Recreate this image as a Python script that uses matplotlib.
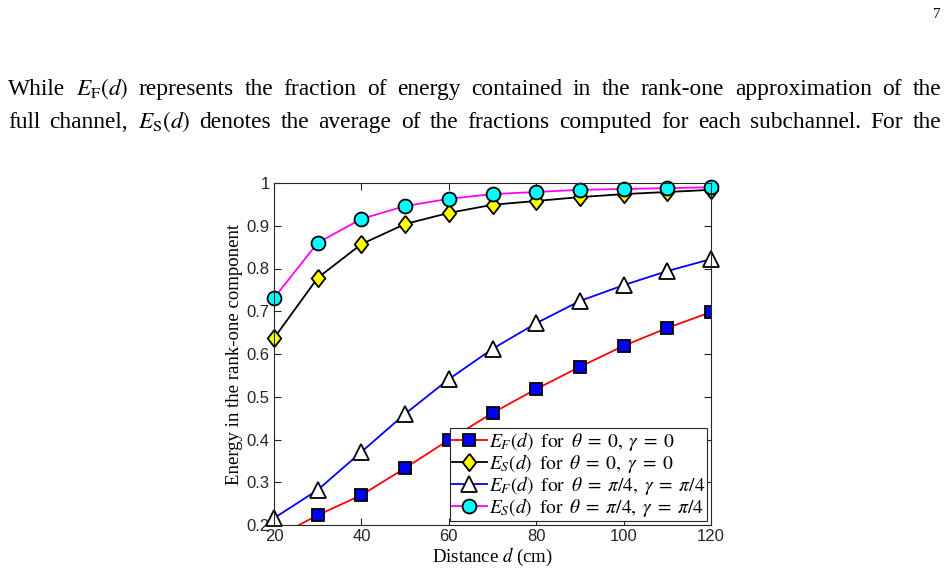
import matplotlib
matplotlib.use("Agg")
import matplotlib.pyplot as plt

# ── data ─────────────────────────────────────────────────────────────────
dist = [20, 30, 40, 50, 60, 70, 80, 90, 100, 110, 120]
ef_0 = [0.169, 0.223, 0.270, 0.333, 0.399, 0.462, 0.518, 0.570, 0.619, 0.661, 0.698]
es_0 = [0.637, 0.778, 0.857, 0.904, 0.930, 0.949, 0.958, 0.967, 0.974, 0.979, 0.984]
ef_pi4 = [0.216, 0.282, 0.371, 0.460, 0.541, 0.612, 0.672, 0.724, 0.761, 0.794, 0.822]
es_pi4 = [0.731, 0.860, 0.916, 0.946, 0.963, 0.974, 0.979, 0.984, 0.986, 0.988, 0.990]

labels = [r"$E_F(d)\;\;\mathrm{for}\;\;\theta\;=\;0,\;\gamma\;=\;0$",
          r"$E_S(d)\;\;\mathrm{for}\;\;\theta\;=\;0,\;\gamma\;=\;0$",
          r"$E_F(d)\;\;\mathrm{for}\;\;\theta\;=\;\pi/4,\;\gamma\;=\;\pi/4$",
          r"$E_S(d)\;\;\mathrm{for}\;\;\theta\;=\;\pi/4,\;\gamma\;=\;\pi/4$"]

xticks = [20, 40, 60, 80, 100, 120]
yticks = [0.2, 0.3, 0.4, 0.5, 0.6, 0.7, 0.8, 0.9, 1.0]
ytick_labels = ["0.2", "0.3", "0.4", "0.5", "0.6", "0.7", "0.8", "0.9", "1"]

page_lines = [
    r"While $E_\mathrm{F}(d)$ represents the fraction of energy contained in the rank-one approximation of the",
    r"full channel, $E_\mathrm{S}(d)$ denotes the average of the fractions computed for each subchannel. For the",
]

AX_GRAY = "#262626"
SERIF = "Liberation Serif"
SANS = "Liberation Sans"

plt.rcParams["mathtext.fontset"] = "stix"
plt.rcParams["font.family"] = SERIF

# slightly tall diamond, like MATLAB's
DIAMOND = [(0, 1), (0.78, 0), (0, -1), (-0.78, 0), (0, 1)]

fig = plt.figure(figsize=(9.49, 5.77), dpi=100)
fig.patch.set_facecolor("white")

# ── page text, justified word by word ───────────────────────────────────
renderer = fig.canvas.get_renderer()
x_left, x_right = 8 / 949, 941 / 949
for line, ybase in zip(page_lines, [95, 128]):
    words = line.split(" ")
    texts = [fig.text(0, 1 - ybase / 577, w, fontsize=16.8, family=SERIF,
                      va="baseline", ha="left") for w in words]
    widths = [t.get_window_extent(renderer).width / 949 for t in texts]
    gap = (x_right - x_left - sum(widths)) / (len(words) - 1)
    x = x_left
    for t, w in zip(texts, widths):
        t.set_x(x)
        x += w + gap

fig.text(941 / 949, 1 - 18 / 577, "7", fontsize=11, family=SERIF,
         ha="right", va="baseline")

# ── chart ────────────────────────────────────────────────────────────────
ax = fig.add_axes([274 / 949, 1 - 525 / 577, 437 / 949, 342 / 577])

mk = dict(markeredgecolor="black", markeredgewidth=1.3, linewidth=1.3)
ax.plot(dist, ef_0, color="red", marker="s", markersize=8.5,
        markerfacecolor="blue", label=labels[0], **mk)
ax.plot(dist, es_0, color="black", marker=DIAMOND, markersize=12.5,
        markerfacecolor="yellow", label=labels[1], clip_on=False, **mk)
ax.plot(dist, ef_pi4, color="blue", marker="^", markersize=11.5,
        markerfacecolor="white", label=labels[2], clip_on=False, **mk)
ax.plot(dist, es_pi4, color="magenta", marker="o", markersize=10,
        markerfacecolor="cyan", label=labels[3], clip_on=False, **mk)

ax.set_xlim(20, 120)
ax.set_ylim(0.2, 1.0)
ax.set_xticks(xticks)
ax.set_yticks(yticks)
ax.set_yticklabels(ytick_labels)
for lab in ax.get_xticklabels() + ax.get_yticklabels():
    lab.set_family(SANS)
ax.tick_params(direction="in", top=True, right=True, length=5, width=0.8,
               colors=AX_GRAY, labelsize=12, pad=3)
for sp in ax.spines.values():
    sp.set_color(AX_GRAY)
    sp.set_linewidth(0.8)

ax.set_xlabel(r"Distance $d$ (cm)", fontsize=13.5, family=SERIF, labelpad=1)
ax.set_ylabel("Energy in the rank-one component", fontsize=13.5, family=SERIF,
              labelpad=3)

leg = ax.legend(loc="lower right", fontsize=14, frameon=True, fancybox=False,
                framealpha=1, edgecolor=AX_GRAY, handlelength=1.8,
                handletextpad=0.1, borderpad=0.1, labelspacing=-0.05,
                borderaxespad=0.2)
leg.get_frame().set_linewidth(0.8)

fig.savefig("out.png", dpi=100, facecolor=fig.get_facecolor())
